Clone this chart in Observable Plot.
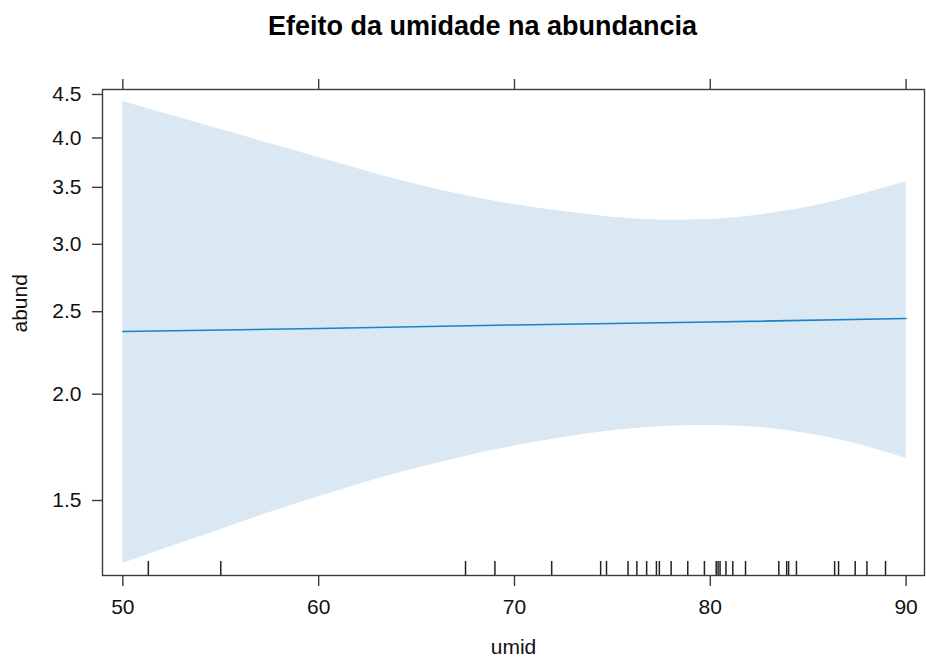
<!DOCTYPE html>
<html>
<head>
<meta charset="utf-8">
<script src="https://cdn.jsdelivr.net/npm/d3@7"></script>
<script src="https://cdn.jsdelivr.net/npm/@observablehq/plot@0.6"></script>
<style>
  html, body { margin: 0; padding: 0; background: #fff; }
  #chart { width: 926px; height: 659px; }
</style>
</head>
<body>
<div id="chart"></div>
<script>
// Effect of humidity (umid) on abundance (abund): fitted curve with confidence band
const umidGrid = [50, 52.5, 55, 57.5, 60, 62.5, 65, 67.5, 70, 72.5, 75, 77.5, 80, 82.5, 85, 87.5, 90];
const upperCI = [4.415, 4.251, 4.093, 3.941, 3.794, 3.653, 3.527, 3.423, 3.341, 3.278, 3.228, 3.203, 3.208, 3.248, 3.318, 3.423, 3.556];
const lowerCI = [1.265, 1.325, 1.387, 1.452, 1.515, 1.578, 1.637, 1.690, 1.738, 1.779, 1.812, 1.832, 1.838, 1.828, 1.797, 1.748, 1.681];

const fitUmid = [50, 60, 70, 80, 90];
const fitAbund = [2.370, 2.389, 2.412, 2.431, 2.454];

// observed humidity values (rug)
const rugUmid = [51.3, 55.0, 67.5, 69.0, 71.9, 74.4, 74.7, 75.8, 76.25, 76.75, 77.25, 77.4, 78.0, 78.85,
  79.7, 80.3, 80.4, 80.5, 80.8, 81.15, 81.8, 83.5, 83.9, 84.0, 84.4, 86.35, 86.55, 87.4, 88.0, 88.95];

const xTicks = [50, 60, 70, 80, 90];
const yTicks = [1.5, 2.0, 2.5, 3.0, 3.5, 4.0, 4.5];

const titleText = "Efeito da umidade na abundancia";
const xLabel = "umid";
const yLabel = "abund";

const xDomain = [48.96, 90.94];
const yDomain = [1.2245, 4.561];

const band = umidGrid.map((u, i) => ({umid: u, lo: lowerCI[i], hi: upperCI[i]}));
const fit = fitUmid.map((u, i) => ({umid: u, abund: fitAbund[i]}));

const frameColor = "#3c3c3c";

const chart = Plot.plot({
  width: 926,
  height: 659,
  marginTop: 89,
  marginLeft: 102,
  marginRight: 2,
  marginBottom: 84,
  style: {fontFamily: "'Liberation Sans', Arial, sans-serif", fontSize: "21px", color: "#111", background: "#fff"},
  x: {domain: xDomain},
  y: {type: "log", domain: yDomain},
  marks: [
    Plot.areaY(band, {x: "umid", y1: "lo", y2: "hi", fill: "#d9e8f3", curve: "natural"}),
    Plot.line(fit, {x: "umid", y: "abund", stroke: "#1e80c6", strokeWidth: 1.6}),
    Plot.ruleX(rugUmid, {x: d => d, y1: yDomain[0], y2: yDomain[0], insetTop: -14, stroke: "#222", strokeWidth: 1.5}),
    Plot.frame({stroke: frameColor, strokeWidth: 1.4}),
    Plot.axisX(xTicks, {anchor: "bottom", tickSize: 11, tickPadding: 13, stroke: frameColor, strokeWidth: 1.4, label: null, tickFormat: d => String(d), fill: "#111"}),
    Plot.axisX(xTicks, {anchor: "top", tickSize: 11, stroke: frameColor, strokeWidth: 1.4, label: null, tickFormat: () => ""}),
    Plot.axisY(yTicks, {anchor: "left", tickSize: 10, tickPadding: 11, stroke: frameColor, strokeWidth: 1.4, label: null, tickFormat: d3.format(".1f"), fill: "#111"}),
    Plot.text([yLabel], {text: d => d, frameAnchor: "left", dx: -82, rotate: -90, fontSize: 21, fill: "#111"}),
    Plot.text([xLabel], {text: d => d, frameAnchor: "bottom", dy: 72, lineAnchor: "middle", fontSize: 21, fill: "#111"}),
    Plot.text([titleText], {text: d => d, frameAnchor: "top", dx: -31, dy: -63, lineAnchor: "middle", fontSize: 27, fontWeight: "bold", fill: "#000"})
  ]
});

document.getElementById("chart").appendChild(chart);
</script>
</body>
</html>
